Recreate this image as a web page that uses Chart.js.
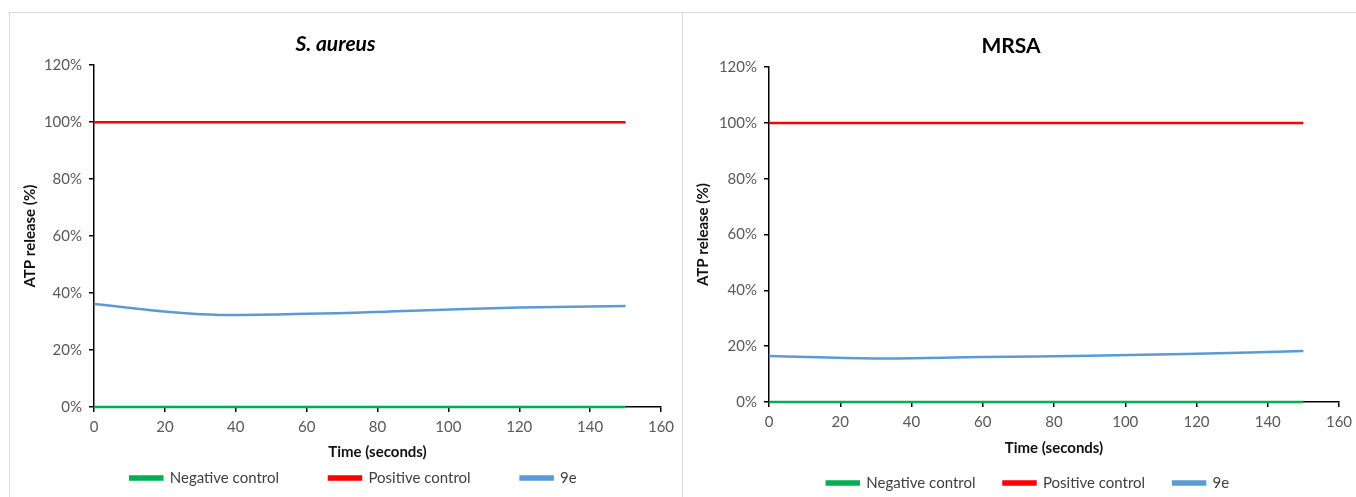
<!DOCTYPE html>
<html>
<head>
<meta charset="utf-8">
<script src="https://cdn.jsdelivr.net/npm/chart.js@4/dist/chart.umd.min.js"></script>
<style>
  html, body { margin: 0; padding: 0; background: #fff; width: 1356px; height: 497px; overflow: hidden; }
  .frame { position: absolute; border-top: 1px solid #d9d9d9; border-left: 1px solid #d9d9d9; }
  canvas { position: absolute; }
</style>
</head>
<body>
<div class="frame" style="left:9px; top:12px; width:673px; height:500px;"></div>
<div class="frame" style="left:682px; top:12px; width:700px; height:500px;"></div>
<canvas id="c1" width="671" height="484" style="left:10px; top:13px;"></canvas>
<canvas id="c2" width="690" height="484" style="left:683px; top:13px;"></canvas>
<script>
// ---- data ----
const chartTitles = ["S. aureus", "MRSA"];
const seriesNames = ["Negative control", "Positive control", "9e"];
const timePoints = [0, 30, 60, 90, 120, 150];
const negativeControl = [0, 0, 0, 0, 0, 0];
const positiveControl = [1.00, 1.00, 1.00, 1.00, 1.00, 1.00];
const saureus9e = [0.362, 0.326, 0.327, 0.338, 0.349, 0.355];
const mrsa9e = [0.165, 0.156, 0.161, 0.166, 0.173, 0.183];
const xTicks = [0, 20, 40, 60, 80, 100, 120, 140, 160];
const yTicks = [0, 0.2, 0.4, 0.6, 0.8, 1.0, 1.2];
const xAxisTitle = "Time (seconds)";
const yAxisTitle = "ATP release (%)";

const colors = ["#00b050", "#ff0000", "#5b9bd5"];
const FONT = "Lato, 'Open Sans', sans-serif";
const LEGEND_FONT = 15;

function pts(vals) { return timePoints.map((t, i) => ({ x: t, y: vals[i] })); }

// place the legend row at a chosen height (it overlaps the reserved layout box)
const legendPlacer = {
  id: 'legendPlacer',
  afterLayout(chart) {
    const cfg = chart.options.plugins.legendPlacer;
    const lg = chart.legend;
    if (!lg || !cfg) return;
    lg.top = cfg.centerY - (cfg.pad + LEGEND_FONT / 2);
    lg.bottom = lg.top + cfg.pad + LEGEND_FONT + 12;
    lg.height = lg.bottom - lg.top;
    lg.left += cfg.shiftX; lg.right += cfg.shiftX;
  }
};

function makeChart(id, title, series9e, cfg) {
  const datasets = [negativeControl, positiveControl, series9e].map((vals, i) => ({
    label: seriesNames[i],
    data: pts(vals),
    borderColor: colors[i],
    backgroundColor: colors[i],
    borderWidth: 2.5,
    pointRadius: 0,
    tension: 0.4,
    clip: 6
  }));
  return new Chart(document.getElementById(id), {
    type: 'line',
    data: { datasets },
    plugins: [legendPlacer],
    options: {
      responsive: false,
      animation: false,
      devicePixelRatio: 1,
      layout: { padding: { left: 0, right: cfg.padRight, top: 0, bottom: cfg.padBottom } },
      plugins: {
        tooltip: { enabled: false },
        legendPlacer: { centerY: cfg.legendY, shiftX: cfg.legendShiftX, pad: cfg.legendPad },
        title: {
          display: true,
          text: title,
          color: '#000',
          font: { family: FONT, size: 21, weight: 'bold', style: cfg.italic ? 'italic' : 'normal', lineHeight: 1.2 },
          padding: { top: cfg.titleTop, bottom: cfg.titleBottom }
        },
        legend: {
          position: 'bottom',
          maxHeight: 26,
          labels: {
            boxWidth: 32, boxHeight: 3, padding: cfg.legendPad,
            color: '#404040',
            font: { family: FONT, size: LEGEND_FONT }
          }
        }
      },
      scales: {
        x: {
          type: 'linear', min: 0, max: 160,
          afterBuildTicks: (s) => { s.ticks = xTicks.map(v => ({ value: v })); },
          grid: { drawOnChartArea: false, drawTicks: true, tickLength: 5, color: '#000', lineWidth: 1.5 },
          border: { display: true, color: '#000', width: 1.5 },
          ticks: { color: '#595959', padding: 6, font: { family: FONT, size: 15 }, maxRotation: 0 },
          title: { display: true, text: xAxisTitle, color: '#111', font: { family: FONT, size: 15, weight: 'bold' }, padding: { top: 0, bottom: cfg.xTitlePad } },
          afterFit: (s) => { s.height = 58; }
        },
        y: {
          type: 'linear', min: 0, max: 1.2,
          afterBuildTicks: (s) => { s.ticks = yTicks.map(v => ({ value: v })); },
          grid: { drawOnChartArea: false, drawTicks: true, tickLength: 5, color: '#000', lineWidth: 1.5 },
          border: { display: true, color: '#000', width: 1.5 },
          ticks: { color: '#595959', padding: 7, font: { family: FONT, size: 15 }, callback: (v) => Math.round(v * 100) + '%' },
          title: { display: true, text: yAxisTitle, color: '#111', font: { family: FONT, size: 15, weight: 'bold' }, padding: { top: 11, bottom: 0 } },
          afterFit: (s) => { s.width = cfg.yWidth; }
        }
      }
    }
  });
}

// left: plot area 84..651 x 52..394 (canvas coords)
makeChart('c1', chartTitles[0], saureus9e, { italic: true, padRight: 20, padBottom: 6, titleTop: 19, titleBottom: 8, xTitlePad: 4, yWidth: 84, legendY: 465, legendShiftX: 18, legendPad: 50 });
// right: plot area 86..656 x 54..389
makeChart('c2', chartTitles[1], mrsa9e, { italic: false, padRight: 34, padBottom: 11, titleTop: 21, titleBottom: 8, xTitlePad: 3, yWidth: 86, legendY: 470, legendShiftX: 17, legendPad: 28 });
</script>
</body>
</html>
